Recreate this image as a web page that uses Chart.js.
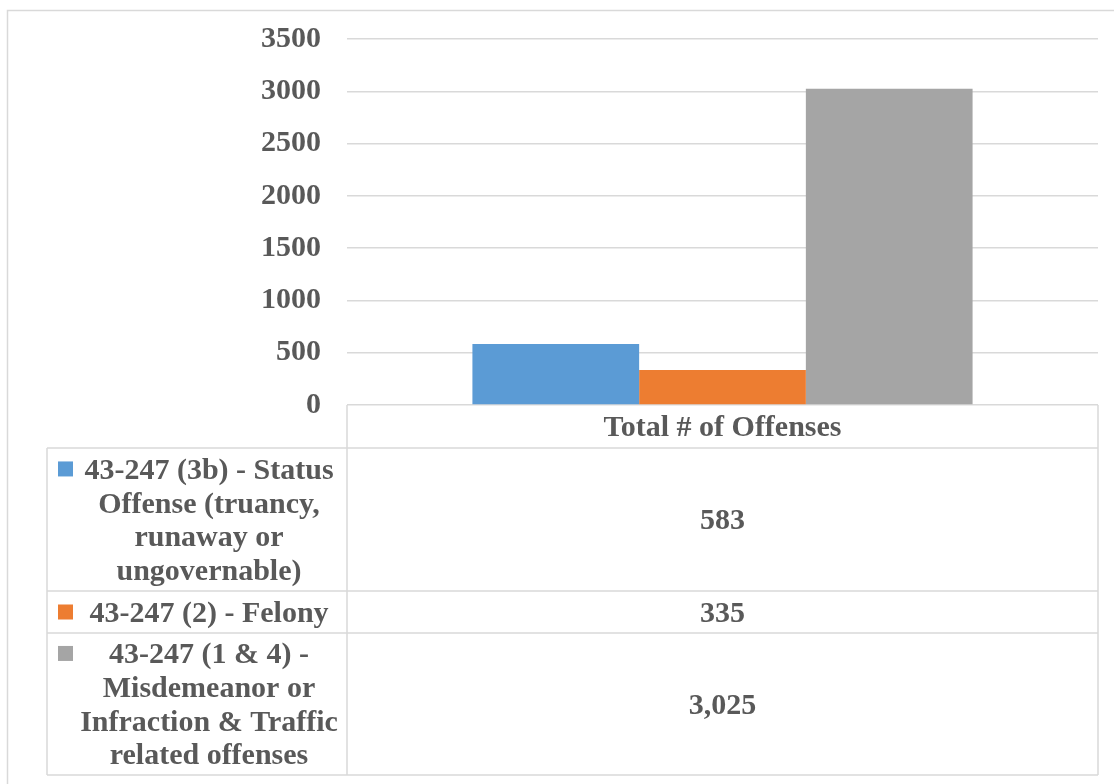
<!DOCTYPE html>
<html><head><meta charset="utf-8">
<script src="https://cdn.jsdelivr.net/npm/chart.js@4.4.0/dist/chart.umd.min.js"></script>
<style>
html,body{margin:0;padding:0;background:#fff;overflow:hidden}
#wrap{position:absolute;left:0;top:0;width:1114px;height:784px}
</style>
</head><body>
<div id="wrap"><canvas id="c"></canvas></div>
<script>
// ---- data ----
const categories = ["Total # of Offenses"];
const seriesNames = [
  ["43-247 (3b) - Status", "Offense (truancy,", "runaway or", "ungovernable)"],
  ["43-247 (2) - Felony"],
  ["43-247 (1 & 4) -", "Misdemeanor or", "Infraction & Traffic", "related offenses"]
];
const statusValues = [583];
const felonyValues = [335];
const misdemeanorValues = [3025];
const yTickValues = [0, 500, 1000, 1500, 2000, 2500, 3000, 3500];
const seriesColors = ["#5b9bd5", "#ed7d31", "#a5a5a5"];

// ---- style ----
const FAMILY = "'Liberation Serif', 'DejaVu Serif', serif";
const FSIZE = 30;
const FONT = "bold " + FSIZE + "px " + FAMILY;
const TEXT = "#595959";
const LINE = "#d9d9d9";

const seriesValues = [statusValues, felonyValues, misdemeanorValues];

const tablePlugin = {
  id: 'dataTable',
  beforeDraw(chart) {
    const ctx = chart.ctx;
    ctx.save();
    ctx.strokeStyle = LINE;
    ctx.lineWidth = 1.5;
    ctx.strokeRect(7.5, 10.5, 1400, 1000);
    ctx.restore();
  },
  afterDraw(chart) {
    const ctx = chart.ctx;
    const a = chart.chartArea;
    const x0 = 47, x1 = a.left, x2 = a.right;
    const headerTop = a.bottom;
    const headerH = 43;
    const rowH = [143, 42, 142];
    const LH = 33.7;
    const capHalf = FSIZE * 0.33;

    ctx.save();
    ctx.strokeStyle = LINE;
    ctx.lineWidth = 1.5;
    let ys = [headerTop + headerH];
    rowH.forEach(h => ys.push(ys[ys.length - 1] + h));
    const bottom = ys[ys.length - 1];
    ctx.beginPath();
    ctx.moveTo(x1, headerTop); ctx.lineTo(x1, bottom);
    ctx.moveTo(x2, headerTop); ctx.lineTo(x2, bottom);
    ctx.moveTo(x0, ys[0]); ctx.lineTo(x0, bottom);
    ys.forEach(y => { ctx.moveTo(x0, y); ctx.lineTo(x2, y); });
    ctx.stroke();

    ctx.font = FONT;
    ctx.fillStyle = TEXT;
    ctx.textAlign = 'center';
    ctx.textBaseline = 'alphabetic';
    const valX = (x1 + x2) / 2;
    ctx.fillText(categories[0], valX, headerTop + headerH / 2 + capHalf);

    const legendCX = 209;
    for (let i = 0; i < seriesNames.length; i++) {
      const top = ys[i], h = rowH[i];
      const cy = top + h / 2;
      const lines = seriesNames[i];
      const firstC = cy - (lines.length - 1) * LH / 2;
      ctx.fillStyle = seriesColors[i];
      ctx.fillRect(58, firstC - 7.5, 15, 15);
      ctx.fillStyle = TEXT;
      lines.forEach((ln, k) => {
        ctx.fillText(ln, legendCX, firstC + k * LH + capHalf);
      });
      const v = seriesValues[i][0].toLocaleString('en-US');
      ctx.fillText(v, valX, cy + capHalf);
    }
    ctx.restore();
  }
};

new Chart(document.getElementById('c'), {
  type: 'bar',
  data: {
    labels: categories,
    datasets: seriesValues.map((vals, i) => ({
      label: seriesNames[i].join(' '),
      data: vals,
      backgroundColor: seriesColors[i],
      borderWidth: 0,
      categoryPercentage: 0.666,
      barPercentage: 1.0
    }))
  },
  options: {
    responsive: true,
    maintainAspectRatio: false,
    animation: false,
    layout: { padding: { left: 0, top: 39, right: 16, bottom: 379 } },
    plugins: { legend: { display: false }, tooltip: { enabled: false } },
    scales: {
      x: { display: false },
      y: {
        min: 0, max: 3500,
        afterFit(scale) {
          scale.width = 347;
          scale.paddingTop = 15;
          scale.paddingBottom = 15;
        },
        afterBuildTicks(scale) { scale.ticks = yTickValues.map(v => ({ value: v })); },
        grid: { color: LINE, lineWidth: 1.5, drawTicks: false },
        border: { display: false },
        ticks: {
          padding: 26,
          color: TEXT,
          font: { family: FAMILY, size: FSIZE, weight: 'bold' },
          callback: v => String(v)
        }
      }
    }
  },
  plugins: [tablePlugin]
});
</script>
</body></html>
